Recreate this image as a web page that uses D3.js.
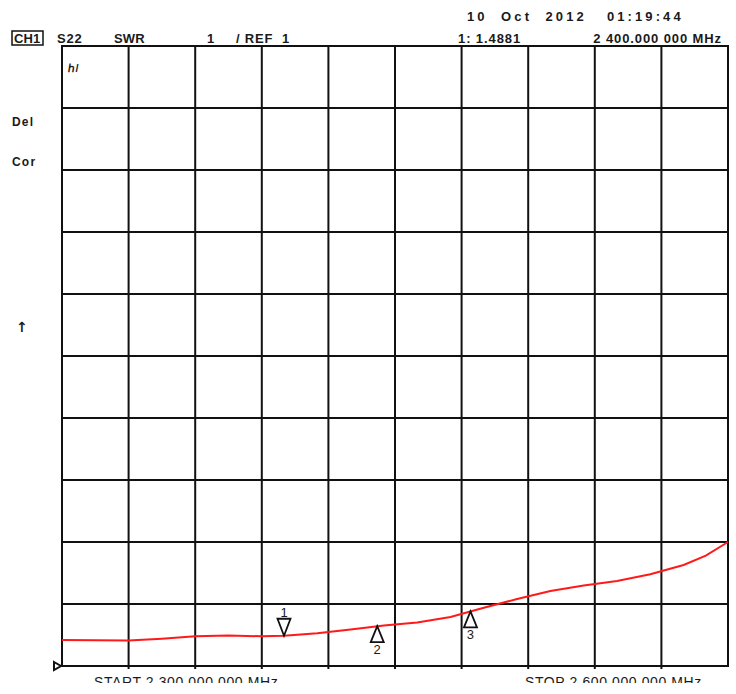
<!DOCTYPE html>
<html>
<head>
<meta charset="utf-8">
<script src="https://cdn.jsdelivr.net/npm/d3@7.9.0/dist/d3.min.js"></script>
<style>
  body { margin: 0; background: #fff; }
  svg text { font-family: "Liberation Sans", Arial, sans-serif; fill: #1a1a1a; }
</style>
</head>
<body>
<svg id="chart" width="736" height="694"></svg>
<script>
// sweep S22 SWR, 2300 - 2600 MHz
const freqs = [2300, 2315, 2330, 2345, 2360, 2375, 2390, 2400, 2415, 2430, 2445,
  2460, 2475, 2490, 2505, 2520, 2535, 2550, 2565, 2580, 2590, 2600];
const swr = [1.42, 1.415, 1.41, 1.44, 1.48, 1.49, 1.48, 1.488, 1.53, 1.59, 1.655,
  1.70, 1.79, 1.94, 2.08, 2.21, 2.30, 2.37, 2.48, 2.63, 2.78, 3.00];

const markerIds = ['1', '2', '3'];
const markerFreqs = [2400, 2442, 2484];
const markerDirs = ['down', 'up', 'up'];

const svg = d3.select('#chart');
const x = d3.scaleLinear().domain([2300, 2600]).range([62, 728]);
const y = d3.scaleLinear().domain([1, 11]).range([666, 46]);

// grid
let g = svg.append('g').attr('stroke', '#111').attr('stroke-width', 2);
d3.range(2300, 2600.1, 30).forEach((f, i) => {
  g.append('line')
    .attr('x1', x(f)).attr('x2', x(f))
    .attr('y1', y(11)).attr('y2', (i == 0 || i == 10) ? y(1) : y(1) + 3);
});
d3.range(1, 11.1, 1).forEach(v => {
  g.append('line')
    .attr('x1', x(2300) - 1).attr('x2', x(2600) + 1)
    .attr('y1', y(v)).attr('y2', y(v));
});

// reference arrow at left bottom
svg.append('path')
  .attr('d', `M${x(2300) - 8},${y(1) - 4} L${x(2300) - 1},${y(1)} L${x(2300) - 8},${y(1) + 4} Z`)
  .attr('fill', 'none').attr('stroke', '#111').attr('stroke-width', 2);

// trace
let line = d3.line().x((d, i) => x(freqs[i])).y(d => y(d));
svg.append('path')
  .datum(swr)
  .attr('d', line)
  .attr('fill', 'none')
  .attr('stroke', '#ff1a1a')
  .attr('stroke-width', 2);

// markers
let interp = f => {
  let i = d3.bisectRight(freqs, f) - 1;
  i = Math.max(0, Math.min(freqs.length - 2, i));
  let t = (f - freqs[i]) / (freqs[i + 1] - freqs[i]);
  return swr[i] + t * (swr[i + 1] - swr[i]);
};
markerFreqs.forEach((f, i) => {
  let mx = x(f), my = y(interp(f));
  let mg = svg.append('g');
  if (markerDirs[i] == 'down') {
    mg.append('path')
      .attr('d', `M${mx},${my} L${mx - 6.5},${my - 17} L${mx + 6.5},${my - 17} Z`)
      .attr('fill', 'none').attr('stroke', '#111').attr('stroke-width', 1.8);
    mg.append('text').attr('x', mx).attr('y', my - 19)
      .attr('text-anchor', 'middle').attr('font-size', 13).text(markerIds[i]);
  } else {
    mg.append('path')
      .attr('d', `M${mx},${my} L${mx - 6.5},${my + 16} L${mx + 6.5},${my + 16} Z`)
      .attr('fill', 'none').attr('stroke', '#111').attr('stroke-width', 1.8);
    mg.append('text').attr('x', mx).attr('y', my + 28)
      .attr('text-anchor', 'middle').attr('font-size', 13).text(markerIds[i]);
  }
});

// header texts
svg.append('rect').attr('x', 12).attr('y', 31).attr('width', 31).attr('height', 14)
  .attr('fill', 'none').attr('stroke', '#111').attr('stroke-width', 1.5);
let label = (tx, ty, s, opts = {}) => svg.append('text')
  .attr('x', tx).attr('y', ty)
  .attr('font-size', opts.size || 13)
  .attr('font-weight', opts.weight || 'bold')
  .attr('letter-spacing', opts.ls || 0.5)
  .attr('text-anchor', opts.anchor || 'start')
  .style('white-space', 'pre')
  .text(s);

label(14, 43, 'CH1', { ls: 0.1 });
label(57, 43, 'S22', { ls: 0.8 });
label(114, 43, 'SWR', { ls: 0.1 });
label(207, 43, '1');
label(236, 43, '/ REF  1', { ls: 0.8 });
label(467, 21, '10  Oct  2012   01:19:44', { ls: 3.1 });
label(458, 43, '1: 1.4881', { ls: 0.9 });
label(722, 43, '2 400.000 000 MHz', { anchor: 'end', ls: 0.9 });
label(12, 126, 'Del', { ls: 1.2, size: 12 });
label(12, 166, 'Cor', { ls: 1.2, size: 12 });
label(16, 332, '↑', { size: 14 }).style('font-family', '"DejaVu Sans"');
label(68, 72, 'ℎ/', { size: 11 });

label(94, 687, 'START 2 300.000 000 MHz', { ls: 0.6, weight: 'normal', size: 14 });
label(525, 687, 'STOP 2 600.000 000 MHz', { ls: 0.6, weight: 'normal', size: 14 });
// the screenshot cuts the bottom line of text
svg.append('rect').attr('x', 0).attr('y', 683).attr('width', 736).attr('height', 11).attr('fill', '#fff');
</script>
</body>
</html>
